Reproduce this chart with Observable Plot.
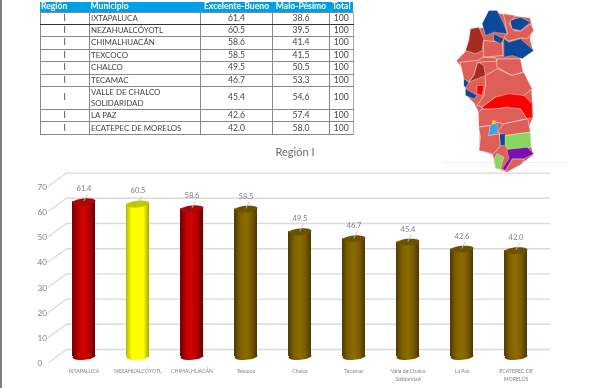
<!DOCTYPE html>
<html lang="es"><head><meta charset="utf-8">
<script src="https://cdn.jsdelivr.net/npm/d3@7"></script>
<script src="https://cdn.jsdelivr.net/npm/@observablehq/plot@0.6"></script>
<style>
html,body{margin:0;padding:0;background:#fff;width:600px;height:388px;overflow:hidden}
#page{position:relative;width:600px;height:388px;filter:blur(.35px)}
#edge{position:absolute;left:0;top:0;width:1.5px;height:388px;background:#808080}
#rule{position:absolute;left:442px;top:162px;width:126px;height:1px;background:#eeeeee}
#chart{position:absolute;left:0;top:0}
#map{position:absolute;left:440px;top:0;filter:blur(.6px)}
#tbl{position:absolute;left:39.5px;top:2px;border-collapse:collapse;table-layout:fixed;width:313px;font:8.6px Lato,sans-serif;color:#444}
#tbl th{background:#00a0e6;color:#fff;font-weight:700;height:9.5px;padding:0;border:0;text-align:center;line-height:9.5px}
#tbl th.l{text-align:left;padding-left:1px}
#tbl td{border:1px solid #888;padding:0;text-align:center;line-height:11px}
#tbl td.l{text-align:left;padding-left:1px;font-size:7.9px}
#tbl td.t{border-right:1.5px solid #aaa}
#tbl tr.b td{border-bottom:1.2px solid #333}
</style></head><body>
<div id="page"><div id="edge"></div><div id="rule"></div><div id="chart"></div><div id="map"></div><table id="tbl"></table></div>
<script>
// ---------- data ----------
const tableHeaders = ["Región","Municipio","Excelente-Bueno","Malo-Pésimo","Total"];
const region = ["I","I","I","I","I","I","I","I","I"];
const municipiosTabla = ["IXTAPALUCA","NEZAHUALCÓYOTL","CHIMALHUACÁN","TEXCOCO","CHALCO","TECAMAC","VALLE DE CHALCO SOLIDARIDAD","LA PAZ","ECATEPEC DE MORELOS"];
const excelenteBueno = [61.4,60.5,58.6,58.5,49.5,46.7,45.4,42.6,42.0];
const maloPesimo = [38.6,39.5,41.4,41.5,50.5,53.3,54.6,57.4,58.0];
const total = [100,100,100,100,100,100,100,100,100];
const rowHeights = [12.3,12,13,12.5,12.3,12.3,23,12.5,12.3];
const municipiosEje = ["IXTAPALUCA","NEZAHUALCÓYOTL","CHIMALHUACÁN","Texcoco","Chalco","Tecamac","Valle de Chalco\nSolidaridad","La Paz","ECATEPEC DE\nMORELOS"];
const grupos = ["rojo","amarillo","rojo","cafe","cafe","cafe","cafe","cafe","cafe"];
const yTicks = [0,10,20,30,40,50,60,70];
const chartTitle = "Región I";

const palette = {
  rojo:{stops:["#6e0000","#b80000","#d80000","#b00000","#6a0000"],cap:"#a80808"},
  amarillo:{stops:["#b8b800","#ffff00","#ffff00","#ffff00","#a8a800"],cap:"#c4c400"},
  cafe:{stops:["#4e3a00","#7c5f00","#8c6c00","#7a5c00","#4c3800"],cap:"#6c5200"}
};

// Map regions (zoomed image units)
const mapBase = [[145,30],[190,40],[225,45],[270,50],[280,85],[270,115],[280,150],[240,175],[250,215],[275,265],[280,350],[265,385],[270,400],[275,440],[280,465],[245,490],[200,515],[165,505],[155,465],[115,450],[115,380],[110,330],[100,310],[75,285],[70,240],[60,200],[45,180],[75,150],[90,85],[125,80]];
const mapSalmon = [
 [[190,40],[225,45],[205,70],[220,90],[240,92],[270,70],[280,90],[260,115],[240,112],[205,122],[190,110],[200,100]],
 [[130,120],[185,125],[188,165],[130,170]],
 [[60,185],[110,180],[130,170],[165,172],[170,182],[112,185],[100,225],[85,245],[70,235]],
 [[170,175],[240,175],[248,215],[215,225],[170,200]],
 [[135,225],[170,205],[215,225],[250,215],[275,265],[250,285],[165,290],[125,320],[110,315],[130,285],[135,255]],
 [[115,335],[125,325],[160,325],[200,320],[240,325],[260,355],[190,370],[170,365],[150,375],[115,380]],
 [[190,370],[262,355],[270,395],[195,405],[172,395]],
 [[115,380],[150,375],[145,405],[178,400],[180,435],[160,460],[115,450],[120,410]],
 [[165,505],[195,510],[215,475],[250,475],[245,490],[200,515]]
];
const mapBlue = [
 [[145,30],[170,30],[190,70],[200,100],[160,95],[135,105],[125,70]],
 [[210,60],[240,50],[270,65],[240,90],[215,85]],
 [[190,115],[205,125],[240,115],[280,150],[245,175],[215,165],[190,170],[190,140]],
 [[160,100],[190,115],[180,130],[160,120]],
 [[70,235],[85,245],[75,262],[70,255]],
 [[75,265],[110,285],[100,295],[75,285]],
 [[178,400],[195,400],[195,435],[180,435]]
];
const mapDark = [
 [[90,85],[115,80],[130,115],[125,150],[105,160],[75,150],[85,120]],
 [[112,185],[130,195],[135,225],[85,245],[100,225]]
];
const mapRed = [
 [[125,320],[165,290],[205,280],[250,285],[275,310],[275,350],[260,355],[240,325],[200,320],[160,325],[130,325]],
 [[110,255],[130,255],[125,285],[110,280]]
];
const mapGreen = [
 [[195,405],[270,395],[272,440],[225,445],[205,450],[195,435]],
 [[170,460],[190,470],[180,505],[165,505],[160,480]]
];
const mapPurple = [[[200,447],[260,440],[280,460],[250,475],[215,475],[195,510],[185,505],[205,475]]];
const mapSky = [[[150,375],[170,365],[172,395],[145,405]]];
const mapYellow = [[[155,360],[165,360],[165,370],[155,370]]];

// ---------- table ----------
const tbl = d3.select("#tbl");
const widths = [49.5,111,72,57,23.5];
tbl.append("colgroup").selectAll("col").data(widths).join("col").style("width",d=>d+"px");
tbl.append("tr").selectAll("th").data(tableHeaders).join("th").attr("class",(d,i)=>i<2?"l":null).text(d=>d);
municipiosTabla.forEach((m,i)=>{
  const tr = tbl.append("tr").attr("class",i==0?"b":null).style("height",rowHeights[i]+"px");
  tr.append("td").text(region[i]);
  tr.append("td").attr("class","l").text(m);
  tr.append("td").text(excelenteBueno[i].toFixed(1));
  tr.append("td").text(maloPesimo[i].toFixed(1));
  tr.append("td").attr("class","t").text(total[i]);
});

// ---------- chart ----------
const rows = municipiosEje.map((m,i)=>({m,v:excelenteBueno[i],g:grupos[i]}));
const ellipse = {draw(ctx,size){
  const rx=Math.sqrt(size/Math.PI), ry=rx*0.29, a=-5*Math.PI/180;
  for(let k=0;k<=36;k++){
    const t=k/36*2*Math.PI, ex=rx*Math.cos(t), ey=ry*Math.sin(t);
    const px=ex*Math.cos(a)-ey*Math.sin(a), py=ex*Math.sin(a)+ey*Math.cos(a);
    k?ctx.lineTo(px,py):ctx.moveTo(px,py);
  }
  ctx.closePath();
}};
const stick = {draw(ctx,l){ctx.moveTo(0,0);ctx.lineTo(0,-l);}};
const defs = () => {
  const s = d3.create("svg:defs");
  for (const [k,p] of Object.entries(palette)) {
    const g = s.append("linearGradient").attr("id","grad-"+k);
    p.stops.forEach((c,i)=>g.append("stop").attr("offset",[0,.25,.5,.75,1][i]).attr("stop-color",c));
  }
  return s.node();
};
const grey = "#808080";
const chart = Plot.plot({
  width:600,height:388,marginLeft:66,marginRight:50,marginTop:0,marginBottom:0,
  style:{background:"transparent",fontFamily:"Lato,sans-serif"},
  x:{type:"band",domain:municipiosEje,range:[57,543],paddingInner:0.574,paddingOuter:0.287,axis:null},
  y:{domain:[0,70],range:[356,179.6],axis:null},
  color:{type:"identity"},
  marks:[
    defs,
    Plot.ruleY(yTicks,{y:d=>d,dy:-7,stroke:"#dadada",strokeWidth:1.4}),
    Plot.vector(yTicks,{y:d=>d,frameAnchor:"left",dy:-7,length:22,rotate:234,anchor:"start",shape:stick,stroke:"#dadada",strokeWidth:1.2}),
    Plot.text(yTicks,{y:d=>d,frameAnchor:"left",dx:-29,dy:7,text:d=>String(d),fill:grey,fontSize:8.2}),
    Plot.dot(rows,{x:"m",y:()=>0,r:11.5,symbol:ellipse,fill:d=>`url(#grad-${d.g})`,stroke:"none"}),
    Plot.barY(rows,{x:"m",y1:()=>0,y2:"v",fill:d=>`url(#grad-${d.g})`}),
    Plot.dot(rows,{x:"m",y:"v",r:11.5,symbol:ellipse,fill:d=>palette[d.g].cap,stroke:"none"}),
    Plot.vector(rows,{x:"m",y:"v",dy:-1,length:7,rotate:28,anchor:"start",shape:stick,stroke:"#bdbdbd",strokeWidth:.8}),
    Plot.text(rows,{x:"m",y:"v",dy:-13,text:d=>d.v.toFixed(1),fill:grey,fontSize:7.6}),
    Plot.text(rows,{x:"m",y:()=>0,dy:11.5,lineAnchor:"top",text:"m",fill:grey,fontSize:5.2,lineHeight:1.45}),
    Plot.text([chartTitle],{x:()=>municipiosEje[4],frameAnchor:"top",dy:148,dx:-5,lineAnchor:"top",text:d=>d,fill:"#6e6e6e",fontSize:11})
  ]
});
document.getElementById("chart").append(chart);

// ---------- map ----------
const ring = p => ({type:"Polygon",coordinates:[[...p,p[0]]]});
const layer = (polys,fill,sw=1) => Plot.geo(polys.map(ring),{fill,stroke:"#fff",strokeWidth:sw});
const map = Plot.plot({
  width:130,height:175,margin:0,
  style:{background:"transparent",overflow:"visible"},
  projection:d3.geoIdentity().scale(1/3),
  marks:[
    layer([mapBase],"#dd5f57",1.6),
    layer(mapSalmon,"#dd5f57",.5),
    layer(mapBlue,"#0b4a9a",.3),
    layer(mapDark,"#a62c22",.4),
    layer(mapRed,"#fa0000",.3),
    layer(mapGreen,"#88d860",.4),
    layer(mapPurple,"#7a10b0",.3),
    layer(mapSky,"#30a8e8",.2),
    layer(mapYellow,"#f0d020",.1)
  ]
});
document.getElementById("map").append(map);
</script></body></html>
